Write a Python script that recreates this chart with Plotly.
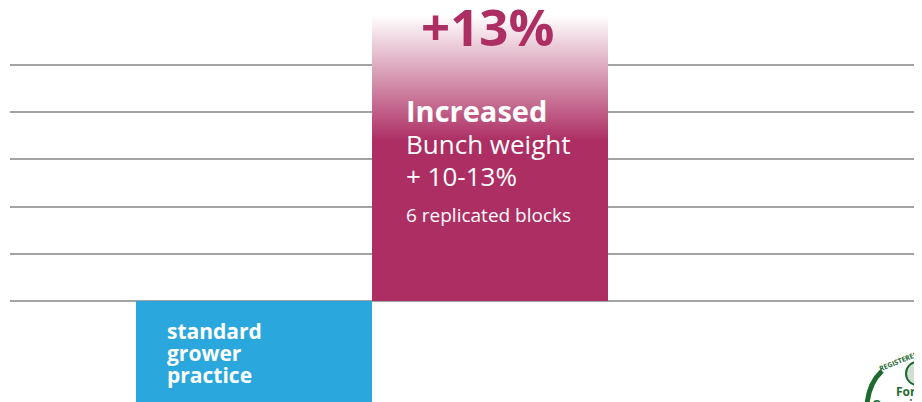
import plotly.graph_objects as go

# ---- data ----
categories = ["standard grower practice", "Increased bunch weight"]
bar_values = [-2.2, 6.06]          # in gridline units (baseline = 0)
gain_label = "+13%"
grid_ticks = [0, 1, 2, 3, 4, 5]
result_lines = ["Increased", "Bunch weight", "+ 10-13%", "6 replicated blocks"]
baseline_lines = ["standard", "grower", "practice"]

BLUE = "#2AA7DC"
MAGENTA = "#AD2E63"
GREEN = "#1E6B30"
FONT = "Open Sans"

# page shows the figure offset by the default 8px body margin
OFF = 8
W, H = 922 - OFF, 402 - OFF
ML = 2                     # plot area starts at screen x = 10
X0_PX, UNIT_X = 254, 236   # screen px of category 0 centre, px per category
Y0_PX, UNIT_Y = 301, 47.2  # screen px of baseline, px per gridline step


def px_x(px):
    return (px - X0_PX) / UNIT_X


def px_y(py):
    return (Y0_PX - py) / UNIT_Y


def paper_x(px):
    return (px - OFF - ML) / (W - ML)


def paper_y(py):
    return (402 - py) / H


X_RANGE = [px_x(OFF + ML), px_x(922)]
Y_RANGE = [px_y(402), px_y(OFF)]

x_idx = list(range(len(categories)))

fig = go.Figure()

# standard practice bar
fig.add_trace(go.Bar(
    x=[x_idx[0]], y=[bar_values[0]], width=1,
    marker=dict(color=BLUE, line=dict(width=0)),
    name=categories[0], hoverinfo="skip",
))

# increased bar with top fade
xm, vm = x_idx[1], bar_values[1]
fig.add_trace(go.Scatter(
    x=[xm - 0.5, xm - 0.5, xm + 0.5, xm + 0.5, xm - 0.5],
    y=[0, vm, vm, 0, 0],
    mode="lines", line=dict(width=0, color=MAGENTA),
    fill="toself",
    fillgradient=dict(type="vertical", start=0, stop=vm,
                      colorscale=[[0, MAGENTA], [0.56, MAGENTA], [1, "#FFFFFF"]]),
    name=categories[1], hoverinfo="skip",
))

annotations = []
annotations.append(dict(x=px_x(487), y=px_y(26), text=f"<b>{gain_label}</b>",
                        showarrow=False, xanchor="center", yanchor="middle",
                        font=dict(family=FONT, size=51, color=MAGENTA)))

specs = [(result_lines[0], 110, 29, True),
         (result_lines[1], 144, 26, False),
         (result_lines[2], 176, 26, False),
         (result_lines[3], 215, 19, False)]
for txt, py, size, bold in specs:
    annotations.append(dict(x=px_x(404), y=px_y(py),
                            text=f"<b>{txt}</b>" if bold else txt,
                            showarrow=False, xanchor="left", yanchor="middle",
                            font=dict(family=FONT, size=size, color="white")))

for txt, py in zip(baseline_lines, [331, 353, 375]):
    annotations.append(dict(x=px_x(165), y=px_y(py), text=f"<b>{txt}</b>",
                            showarrow=False, xanchor="left", yanchor="middle",
                            font=dict(family=FONT, size=21, color="white")))

# partial organic logo (bottom right)
shapes = [
    dict(type="path", xref="x", yref="y",
         path=f"M {px_x(867)},{px_y(404)} Q {px_x(869)},{px_y(383)} {px_x(882)},{px_y(371)}",
         line=dict(color=GREEN, width=5)),
    dict(type="circle", xref="x", yref="y",
         x0=px_x(906), x1=px_x(928), y0=px_y(385), y1=px_y(362),
         line=dict(color=GREEN, width=2), fillcolor="#CFE0D1"),
]
annotations.append(dict(xref="paper", yref="paper",
                        x=paper_x(894), y=paper_y(391), text="<b>For use in</b>",
                        showarrow=False, xanchor="left", yanchor="middle",
                        font=dict(family=FONT, size=12, color=GREEN)))
annotations.append(dict(xref="paper", yref="paper",
                        x=paper_x(870), y=paper_y(394), text="<b>Organic Agriculture</b>",
                        showarrow=False, xanchor="left", yanchor="top",
                        font=dict(family=FONT, size=12, color=GREEN)))
annotations.append(dict(x=px_x(898), y=px_y(361), text="<b>REGISTERED</b>",
                        showarrow=False, xanchor="center", yanchor="middle",
                        textangle=-22,
                        font=dict(family=FONT, size=7, color=GREEN)))

fig.update_layout(
    width=W, height=H,
    margin=dict(l=ML, r=0, t=0, b=0),
    paper_bgcolor="white", plot_bgcolor="white",
    showlegend=False,
    bargap=0,
    xaxis=dict(range=X_RANGE, visible=False, fixedrange=True),
    yaxis=dict(range=Y_RANGE, tickvals=grid_ticks, showticklabels=False,
               showgrid=True, gridcolor="#A3A3A3", gridwidth=2,
               zeroline=False, showline=False, ticks="", fixedrange=True),
    annotations=annotations,
    shapes=shapes,
)

fig.write_html("out.html")
